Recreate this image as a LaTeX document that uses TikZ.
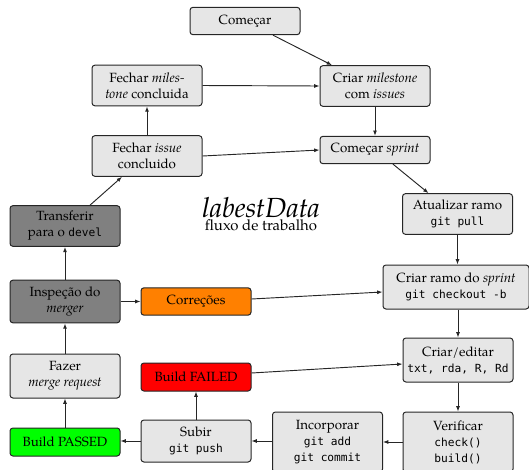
\documentclass[tikz,border=0pt]{standalone}
\usepackage{fontspec}
\setmainfont{TeX Gyre Pagella}
\setmonofont[Scale=0.84]{DejaVu Sans Mono}
\usetikzlibrary{arrows.meta,calc}
\definecolor{boxgray}{HTML}{E6E6E6}
\definecolor{darkbox}{HTML}{808080}
\definecolor{orangebox}{HTML}{FF8000}
\begin{document}
\begin{tikzpicture}[x=0.75pt,y=-0.75pt,
  box/.style={draw=black!85, rounded corners=2.2pt, fill=boxgray, align=center,
    minimum width=82.5pt, inner sep=1.5pt, line width=0.75pt, font=\normalsize},
  dark/.style={box, fill=darkbox},
  arr/.style={-{Latex[length=4pt,width=3pt]}, line width=0.7pt, draw=black!85},
  h1/.style={minimum height=20.5pt},
  h2/.style={minimum height=30.5pt},
  h3/.style={minimum height=45pt}]
\useasboundingbox (0,0) rectangle (529,469);
\node[box,h1] (start) at (245,21) {Come\c{c}ar};
\node[box,h2] (milestone) at (375,86) {Criar \emph{milestone}\\com \emph{issues}};
\node[box,h2] (closems) at (147,85.5) {Fechar \emph{miles-}\\\emph{tone} concluida};
\node[box,h2] (closeiss) at (147,156) {Fechar \emph{issue}\\concluido};
\node[box,h1] (sprint) at (375,150) {Come\c{c}ar \emph{sprint}};
\node[box,h2] (pull) at (457.5,214) {Atualizar ramo\\\texttt{git pull}};
\node[dark,h2] (transfer) at (65,226) {Transferir\\para o \texttt{devel}};
\node[dark,h2,minimum height=32pt] (inspect) at (65,301.5) {Inspe\c{c}\~ao do\\\emph{merger}};
\node[box,h1,fill=orangebox] (fix) at (196,301.5) {Corre\c{c}\~oes};
\node[box,h2,minimum width=109.5pt,minimum height=33pt] (branch) at (456,287) {Criar ramo do \emph{sprint}\\\texttt{git checkout -b}};
\node[box,h2,minimum height=33pt] (edit) at (458,360) {Criar/editar\\\texttt{txt, rda, R, Rd}};
\node[box,h1,fill=red,minimum height=21pt] (failed) at (196,377) {Build FAILED};
\node[box,h2,minimum height=33pt] (merge) at (65,376) {Fazer\\\emph{merge request}};
\node[box,h1,fill=green,minimum height=21pt] (passed) at (65,442) {Build PASSED};
\node[box,h2,minimum height=31.5pt] (push) at (196,441) {Subir\\\texttt{git push}};
\node[box,h3] (incorp) at (327.5,442) {Incorporar\\\texttt{git add}\\\texttt{git commit}};
\node[box,h3] (verify) at (458,442) {Verificar\\\texttt{check()}\\\texttt{build()}};
\node[align=center,inner sep=0pt] (title) at (261,214)
  {{\huge\itshape labestData}\\[-2pt]{\fontsize{11.2}{13}\selectfont fluxo de trabalho}};
% connectors
\draw[arr] ($(start.south)+(28,0)$) -- ($(milestone.north)+(-43,0)$);
\draw[arr] (closems.east) -- (milestone.west);
\draw[arr] (milestone.south) -- (sprint.north);
\draw[arr] (closeiss.east) -- (sprint.west);
\draw[arr] (closeiss.north) -- (closems.south);
\draw[arr] ($(sprint.south)+(18,0)$) -- ($(pull.north)+(-29,0)$);
\draw[arr] (pull.south) -- (pull.south |- branch.north);
\draw[arr] (branch.south -| edit.north) -- (edit.north);
\draw[arr] ($(fix.east)+(0,-2.5)$) -- ($(branch.west)+(0,5)$);
\draw[arr] ($(failed.east)+(0,-4)$) -- ($(edit.west)+(0,4)$);
\draw[arr] (edit.south) -- (edit.south |- verify.north);
\draw[arr] (verify.west) -- (incorp.east);
\draw[arr] (incorp.west |- push.east) -- (push.east);
\draw[arr] (push.north) -- (failed.south);
\draw[arr] (push.west) -- (push.west -| passed.east);
\draw[arr] (passed.north) -- (merge.south);
\draw[arr] (merge.north) -- (inspect.south);
\draw[arr] (inspect.east) -- (fix.west);
\draw[arr] (inspect.north) -- (transfer.south);
\draw[arr] ($(transfer.north)+(25,0)$) -- ($(closeiss.south)+(-25,0)$);
\end{tikzpicture}
\end{document}
